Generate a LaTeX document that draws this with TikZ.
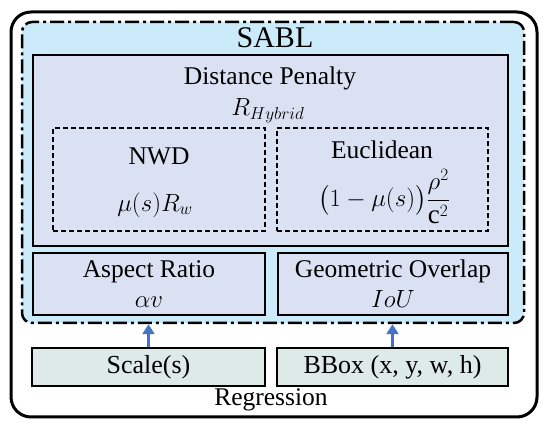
\documentclass[tikz,border=0pt]{standalone}
\usepackage{fontspec}
\setmainfont{Liberation Serif}
\usepackage{amsmath}
\usetikzlibrary{arrows.meta}
\definecolor{sablblue}{HTML}{CCEBFA}
\definecolor{boxblue}{HTML}{D9E1F2}
\definecolor{inputgray}{HTML}{DDEAE8}
\definecolor{arrowblue}{HTML}{4472C4}
\tikzset{
  txt/.style={font=\fontsize{25.5}{30}\selectfont, align=center, inner sep=0pt},
  mathtxt/.style={font=\fontsize{24}{30}\selectfont, align=center, inner sep=0pt},
  solidbox/.style={draw, line width=2pt, fill=boxblue, inner sep=0pt},
  dashbox/.style={draw, line width=2pt, dash pattern=on 5pt off 3pt, inner sep=0pt},
  inbox/.style={draw, line width=1.6pt, fill=inputgray, inner sep=0pt, font=\fontsize{26}{30}\selectfont},
  uparrow/.style={arrowblue, line width=3.2pt, -{Triangle[width=12pt,length=10pt]}}
}
\begin{document}
\begin{tikzpicture}[x=1pt,y=-1pt]
  \useasboundingbox (0,0) rectangle (550,430);
  % frames
  \node[draw, line width=3pt, rounded corners=20pt, minimum width=526pt, minimum height=405pt] (regr) at (274,214.5) {};
  \node[draw, fill=sablblue, line width=2.5pt, rounded corners=10pt, dash pattern=on 14pt off 4pt on 3pt off 4pt,
        minimum width=502pt, minimum height=301pt] (sabl) at (273,172.5) {};
  \node[solidbox, minimum width=475pt, minimum height=191pt] (dist) at (270.5,150.5) {};
  \node[dashbox, minimum width=212pt, minimum height=103pt] (nwd) at (159,179.5) {};
  \node[dashbox, minimum width=211pt, minimum height=103pt] (eucl) at (382.5,179.5) {};
  \node[solidbox, txt, minimum width=232pt, minimum height=62pt] (aspect) at (149,284) {Aspect Ratio\\[0pt]$\alpha v$};
  \node[solidbox, txt, minimum width=230pt, minimum height=62pt] (overlap) at (393,284) {Geometric Overlap\\[0pt]$IoU$};
  \node[inbox, minimum width=233pt, minimum height=38pt] (scale) at (148.5,367) {Scale(s)};
  \node[inbox, minimum width=231pt, minimum height=38pt] (bbox) at (392.5,367) {BBox (x, y, w, h)};
  % labels
  \node[font=\fontsize{30}{32}\selectfont, inner sep=0pt] (sabltitle) at (275,38) {SABL};
  \node[txt] (disttitle) at (270,78) {Distance Penalty};
  \node[mathtxt] (hybrid) at (268,111) {$R_{Hybrid}$};
  \node[txt] (nwdtitle) at (159,156) {NWD};
  \node[mathtxt] (nwdterm) at (155,205) {$\mu(s)R_w$};
  \node[txt] (euclitle) at (382,150) {Euclidean};
  \node[mathtxt, font=\fontsize{27}{30}\selectfont] (eucterm) at (384,197) {$\bigl(1-\mu(s)\bigr)\dfrac{\rho^2}{\mathrm{c}^2}$};
  \node[txt] (regrtitle) at (271,400) {Regression};
  % inputs
  \draw[uparrow] (scale.north) -- (scale.north |- sabl.south);
  \draw[uparrow] (bbox.north) -- (bbox.north |- sabl.south);
\end{tikzpicture}
\end{document}
